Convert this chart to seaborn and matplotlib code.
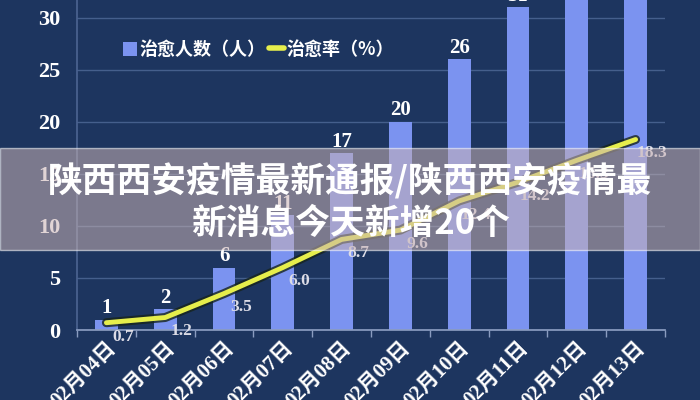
import matplotlib
matplotlib.use("Agg")
import matplotlib.pyplot as plt
import matplotlib.patheffects as pe
from matplotlib.patches import Rectangle, Patch
from matplotlib.lines import Line2D
import numpy as np
import pandas as pd
import seaborn as sns

# data
dates = ["02月04日", "02月05日", "02月06日", "02月07日", "02月08日",
         "02月09日", "02月10日", "02月11日", "02月12日", "02月13日"]
cured = [1, 2, 6, 11, 17, 20, 26, 31, 35, 38]
cure_rate = [0.7, 1.2, 3.5, 6.0, 8.7, 9.6, 12.4, 14.2, 16.3, 18.3]
title = "陕西西安疫情最新通报/陕西西安疫情最\n新消息今天新增20个"

navy = "#1d355f"
bar_color = "#7b93f0"
line_color = "#e6ee4c"
serif = ["Liberation Serif", "Noto Sans CJK SC"]

sns.set_theme(style="dark")
plt.rcParams["font.family"] = ["Noto Sans CJK SC", "DejaVu Sans"]

df = pd.DataFrame({"date": dates, "cured": cured, "rate": cure_rate})
df["x"] = np.arange(len(df))

fig = plt.figure(figsize=(7, 4), dpi=100)
fig.set_facecolor(navy)
ax = fig.add_axes([0.11, 0.175, 0.84, 0.825])
ax.set_facecolor(navy)

# bars
ax.bar(df["x"], df["cured"], width=0.39, color=bar_color, linewidth=0,
       edgecolor="none", zorder=2)
for x, v in zip(df["x"], df["cured"]):
    ax.annotate(str(v), (x, v), xytext=(0, 1), textcoords="offset points",
                ha="center", va="bottom", color="white", fontsize=15,
                fontweight="bold", family=serif, zorder=4)

# cure rate line
sns.lineplot(data=df, x="x", y="rate", ax=ax, color=line_color, linewidth=3.5,
             zorder=3, legend=False,
             path_effects=[pe.Stroke(linewidth=6.5, foreground="#17241c", alpha=0.8), pe.Normal()])
for x, v in zip(df["x"], df["rate"]):
    ax.annotate(f"{v:.1f}", (x, v), xytext=(12, -10), textcoords="offset points",
                ha="center", va="center", color="#dcdce6", fontsize=12.5,
                fontweight="bold", family=serif, zorder=4)

ax.set_xlim(-0.46, 9.5)
ax.set_ylim(0, 31.7)
ax.set_yticks(range(0, 31, 5))
ax.set_xticks(df["x"])
ax.set_xticklabels(dates, rotation=45, ha="right", rotation_mode="anchor",
                   family=serif, fontsize=15, fontweight="bold", color="white")
ax.set_xticks(np.arange(-0.5, 10, 1), minor=True)
ax.tick_params(axis="x", which="major", length=0, pad=6)
ax.tick_params(axis="x", which="minor", length=5, color="#8a9cc0", direction="out", bottom=True)
ax.tick_params(axis="y", length=0, pad=12, labelcolor="white")
for lab in ax.get_yticklabels():
    lab.set_family(serif)
    lab.set_fontweight("bold")
    lab.set_fontsize(16)
ax.set_xlabel("")
ax.set_ylabel("")
ax.grid(axis="y", color="#506a98", linewidth=1, alpha=0.8)
ax.grid(axis="x", visible=False)
for s in ["top", "right"]:
    ax.spines[s].set_visible(False)
ax.spines["left"].set_color("#4a6290")
ax.spines["bottom"].set_color("#8a9cc0")

handles = [Patch(facecolor=bar_color, edgecolor="none", label="治愈人数（人）"),
           Line2D([0], [0], color=line_color, linewidth=4, label="治愈率（%）")]
leg = ax.legend(handles=handles, loc="center left", bbox_to_anchor=(0.05, 0.85), ncol=2,
                frameon=False, handlelength=0.8, handleheight=0.8, handletextpad=0.15,
                columnspacing=0.2, prop={"weight": "bold", "size": 13})
for t in leg.get_texts():
    t.set_color("white")

# translucent title band
fig.patches.append(Rectangle((0, 0.375), 1, 0.255, transform=fig.transFigure,
                             facecolor="#c9b2b4", alpha=0.55, zorder=5))
fig.text(0.5, 0.494, title, ha="center", va="center", color="white",
         fontsize=25, fontweight="heavy", linespacing=1.22, zorder=6,
         family=["Noto Sans CJK SC", "DejaVu Sans"])

fig.savefig("out.png", dpi=100, facecolor=navy)
